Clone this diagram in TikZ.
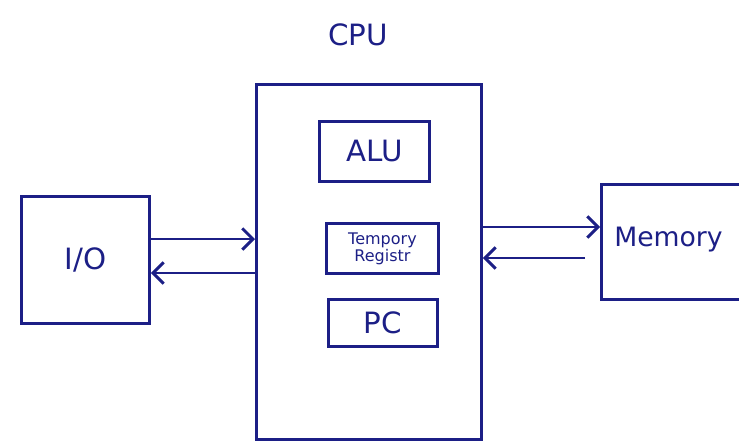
\documentclass[tikz,border=0pt]{standalone}
\usepackage{fontspec}
\setmainfont{DejaVu Sans}
\usetikzlibrary{arrows.meta}
\definecolor{ink}{HTML}{1C1F86}
\begin{document}
\begin{tikzpicture}[x=0.75pt,y=-0.75pt,
  box/.style={draw=ink,line width=2.2pt,inner sep=0pt,anchor=north west},
  lbl/.style={text=ink,font=\fontsize{22}{24}\selectfont,inner sep=0pt},
  conn/.style={draw=ink,line width=2.2pt,-{Straight Barb[length=8pt,width=16pt,line width=2.2pt]}}]
\useasboundingbox (0,0) rectangle (739,447);
\clip (0,0) rectangle (739,447);
\node[lbl] (cputitle) at (358,35) {CPU};
\node[box,minimum width=168.75pt,minimum height=266.25pt] (cpu) at (255,83) {};
\node[box,minimum width=82.5pt,minimum height=45pt] (alu) at (318,120) {};
\node[lbl] (alut) at (alu.center) {ALU};
\node[box,minimum width=84pt,minimum height=37.5pt] (tmp) at (325,222) {};
\node[text=ink,font=\fontsize{12}{11}\selectfont,align=center,inner sep=0pt] (tmpt) at (tmp.center) {Tempory\\Registr};
\node[box,minimum width=81.75pt,minimum height=35.25pt] (pc) at (327,298) {};
\node[lbl] (pct) at (pc.center) {PC};
\node[box,minimum width=96pt,minimum height=95.25pt] (io) at (20,195) {};
\node[lbl] (iot) at (io.center) {I/O};
\node[box,minimum width=150pt,minimum height=86.25pt] (mem) at (600,183) {};
\node[lbl,anchor=west,font=\fontsize{20}{22}\selectfont] (memt) at (614,240) {Memory};
% I/O <-> CPU
\coordinate (a1) at (io.east |- 0,239);
\coordinate (a2) at (cpu.west |- 0,239);
\coordinate (b1) at (cpu.west |- 0,273);
\coordinate (b2) at (io.east |- 0,273);
\draw[conn] (a1) -- (a2);
\draw[conn] (b1) -- (b2);
% CPU <-> Memory
\coordinate (c1) at (cpu.east |- 0,227);
\coordinate (c2) at (mem.west |- 0,227);
\coordinate (d1) at (585,258);
\coordinate (d2) at (cpu.east |- 0,258);
\draw[conn] (c1) -- (c2);
\draw[conn] (d1) -- (d2);
\end{tikzpicture}
\end{document}
